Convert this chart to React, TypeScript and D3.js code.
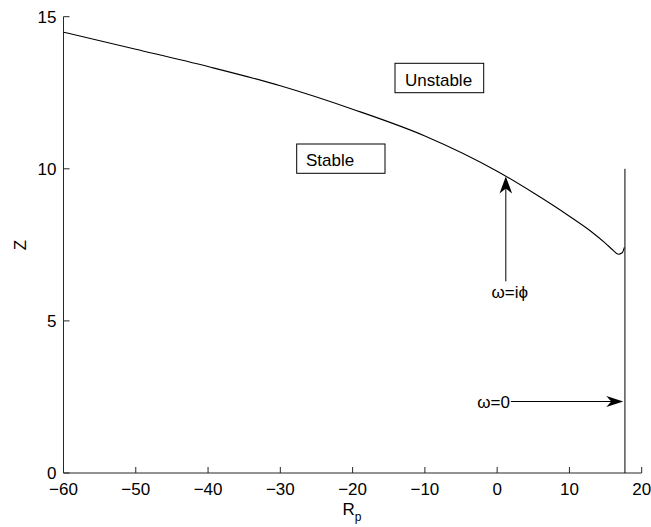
import React from "react";
import * as d3 from "d3";

const xTicks = [-60, -50, -40, -30, -20, -10, 0, 10, 20];
const yTicks = [0, 5, 10, 15];

const curveRp = [-60, -50, -40, -30, -20, -10, 0, 5, 10, 13, 15, 16, 16.75, 17.3, 17.6];
const curveZ = [14.49, 13.93, 13.36, 12.73, 11.96, 11.08, 9.92, 9.21, 8.44, 7.94, 7.55, 7.33, 7.19, 7.24, 7.42];

const verticalRp = 17.68;
const verticalZ = [0, 10];

const arrowIphi = { x: 1.2, z0: 6.3, z1: 9.75, label: "ω=i\u03D5" };
const arrowZero = { x0: 1.9, x1: 17.45, z: 2.35, label: "ω=0" };

const stableBox = { label: "Stable" };
const unstableBox = { label: "Unstable" };

const W = 651;
const H = 527;
const m = { left: 63.5, right: 651 - 641.7, top: 16.7, bottom: 527 - 473 };

export default function App() {
  const x = d3.scaleLinear().domain([-60, 20]).range([m.left, W - m.right]);
  const y = d3.scaleLinear().domain([0, 15]).range([H - m.bottom, m.top]);
  const pts: [number, number][] = curveRp.map((r, i) => [r, curveZ[i]]);
  const line = d3
    .line<[number, number]>()
    .x((d) => x(d[0]))
    .y((d) => y(d[1]))
    .curve(d3.curveMonotoneX);
  const font = "'Liberation Sans', Arial, Helvetica, sans-serif";
  const fs = 17;

  const headUp = (tx: number, ty: number) => {
    const L = 17, w = 6.3, n = 5;
    return `M${tx},${ty} L${tx + w},${ty + L} L${tx},${ty + L - n} L${tx - w},${ty + L} Z`;
  };
  const headRight = (tx: number, ty: number) => {
    const L = 17, w = 5.5, n = 5;
    return `M${tx},${ty} L${tx - L},${ty - w} L${tx - L + n},${ty} L${tx - L},${ty + w} Z`;
  };

  const ax = x(arrowIphi.x);
  const ayTip = y(arrowIphi.z1);
  const ayBase = y(arrowIphi.z0);
  const bx0 = x(arrowZero.x0);
  const bx1 = x(arrowZero.x1);
  const by = y(arrowZero.z);

  return (
    <svg
      width={W}
      height={H}
      style={{ position: "absolute", left: 0, top: 0, background: "#fff" }}
      fontFamily={font}
    >
      <rect x={0} y={0} width={W} height={H} fill="#fff" />
      <line x1={x(-60)} x2={x(20)} y1={y(0)} y2={y(0)} stroke="#262626" strokeWidth={1} />
      <line x1={x(-60)} x2={x(-60)} y1={y(0)} y2={y(15)} stroke="#262626" strokeWidth={1} />
      {xTicks.map((t) => (
        <g key={"x" + t}>
          <line x1={x(t)} x2={x(t)} y1={y(0)} y2={y(0) - 6} stroke="#262626" />
          <text x={x(t)} y={y(0) + 22} fontSize={fs} textAnchor="middle" fill="#000">
            {t < 0 ? "\u2212" + Math.abs(t) : String(t)}
          </text>
        </g>
      ))}
      {yTicks.map((t) => (
        <g key={"y" + t}>
          <line x1={x(-60)} x2={x(-60) + 6} y1={y(t)} y2={y(t)} stroke="#262626" />
          <text x={x(-60) - 7} y={y(t) + 6} fontSize={fs} textAnchor="end" fill="#000">
            {String(t)}
          </text>
        </g>
      ))}
      <text
        transform={`translate(${26},${245}) rotate(-90)`}
        fontSize={fs}
        textAnchor="middle"
        fill="#000"
      >
        Z
      </text>
      <text x={342.5} y={515} fontSize={fs} fill="#000">
        R
        <tspan fontSize={12} dy={6} fill="#000">
          p
        </tspan>
      </text>
      <path d={line(pts) || ""} fill="none" stroke="#000" strokeWidth={1.1} />
      <line
        x1={x(verticalRp)}
        x2={x(verticalRp)}
        y1={y(verticalZ[0])}
        y2={y(verticalZ[1])}
        stroke="#000"
        strokeWidth={1}
      />
      <line x1={ax} x2={ax} y1={ayBase} y2={ayTip + 10} stroke="#000" strokeWidth={1} />
      <path d={headUp(ax, ayTip)} fill="#000" />
      <text x={ax + 4} y={ayBase + 17} fontSize={fs} textAnchor="middle" fill="#000">
        {arrowIphi.label}
      </text>
      <line x1={bx0} x2={bx1 - 10} y1={by} y2={by} stroke="#000" strokeWidth={1} />
      <path d={headRight(bx1, by)} fill="#000" />
      <text x={bx0 - 1} y={by + 6} fontSize={fs} textAnchor="end" fill="#000">
        {arrowZero.label}
      </text>
      <rect x={296.7} y={144} width={88.3} height={29.3} fill="#fff" stroke="#000" strokeWidth={1} />
      <text x={306} y={166} fontSize={fs} fill="#000">
        {stableBox.label}
      </text>
      <rect x={395} y={63.3} width={88.7} height={29.4} fill="#fff" stroke="#000" strokeWidth={1} />
      <text x={405} y={85.5} fontSize={fs} fill="#000">
        {unstableBox.label}
      </text>
    </svg>
  );
}
